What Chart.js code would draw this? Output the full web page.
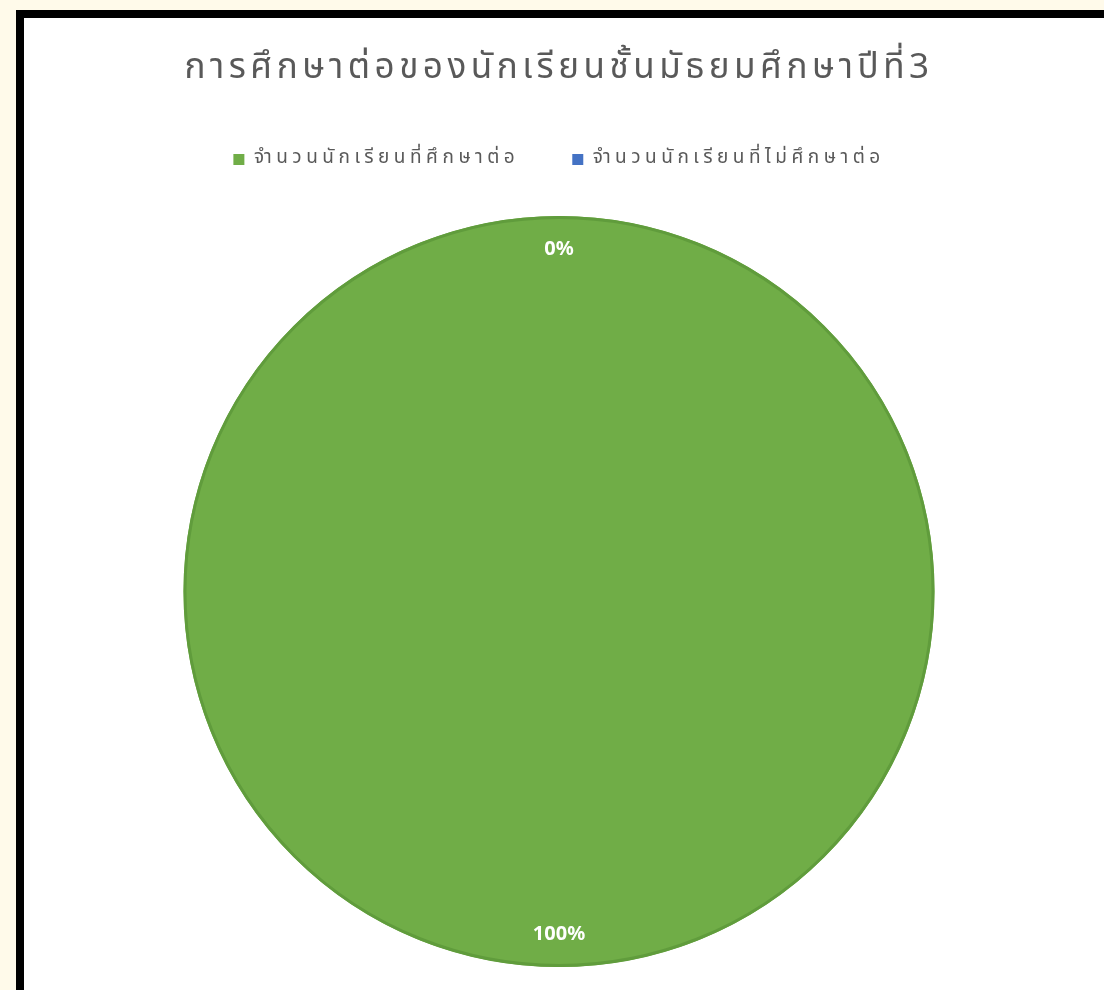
<!DOCTYPE html>
<html lang="th">
<head>
    <meta charset="UTF-8">
    <title>การศึกษาต่อของนักเรียนชั้นมัธยมศึกษาปีที่3</title>
    <style>
        * {
            margin: 0;
            padding: 0;
            box-sizing: border-box;
        }

        body {
            width: 1104px;
            height: 990px;
            overflow: hidden;
            background-color: #fffaea;
            position: relative;
        }

        .frame {
            position: absolute;
            left: 16px;
            top: 10px;
            width: 1200px;
            height: 1100px;
            border: 8px solid #000;
            background-color: #fff;
        }

        .chart-box {
            position: absolute;
            left: 24px;
            top: 18px;
            width: 1070px;
            height: 972px;
        }
    </style>
</head>
<body>
    <div class="frame"></div>
    <div class="chart-box">
        <canvas id="pieChart"></canvas>
    </div>

    <script src="https://cdn.jsdelivr.net/npm/chart.js"></script>
    <script>
        const categories = ['จำนวนนักเรียนที่ศึกษาต่อ', 'จำนวนนักเรียนที่ไม่ศึกษาต่อ'];
        const studentCounts = [100, 0];
        const sliceColors = ['#70ad47', '#4472c4'];

        const thaiFont = "Tahoma, 'Noto Sans Thai', 'Noto Sans', sans-serif";
        const textSpacing = '4.5px';

        // ตัวอักษรในภาพต้นฉบับกว้างกว่า จึงเพิ่มระยะห่างตัวอักษร (ต้องตั้งใหม่หลัง resize)
        const wideText = {
            id: 'wideText',
            beforeUpdate(chart) { chart.ctx.letterSpacing = textSpacing; },
            beforeDraw(chart) { chart.ctx.letterSpacing = textSpacing; }
        };

        // เว้นที่ใต้คำอธิบายก่อนถึงวงกลม
        const legendGap = {
            id: 'legendGap',
            beforeInit(chart) {
                if (!chart.legend) return;
                const fit = chart.legend.fit;
                chart.legend.fit = function () {
                    fit.call(this);
                    this.height += 37;
                };
            }
        };

        // เส้นขอบรอบวงกลม + ป้ายเปอร์เซ็นต์ใกล้ขอบ
        const percentLabels = {
            id: 'percentLabels',
            afterDatasetsDraw(chart) {
                const ctx = chart.ctx;
                const meta = chart.getDatasetMeta(0);
                const total = studentCounts.reduce((a, b) => a + b, 0);
                ctx.save();
                ctx.letterSpacing = '0px';

                const first = meta.data[0].getProps(['x', 'y', 'outerRadius'], true);
                ctx.beginPath();
                ctx.arc(first.x, first.y, first.outerRadius - 1.5, 0, Math.PI * 2);
                ctx.strokeStyle = '#609c3c';
                ctx.lineWidth = 3;
                ctx.stroke();

                ctx.fillStyle = '#ffffff';
                ctx.font = "bold 20px 'Noto Sans', sans-serif";
                ctx.textAlign = 'center';
                ctx.textBaseline = 'middle';
                meta.data.forEach((arc, i) => {
                    const p = arc.getProps(['x', 'y', 'startAngle', 'endAngle', 'outerRadius'], true);
                    const mid = (p.startAngle + p.endAngle) / 2;
                    const r = p.outerRadius - 33;
                    const pct = Math.round(studentCounts[i] / total * 100) + '%';
                    ctx.fillText(pct, p.x + Math.cos(mid) * r, p.y + Math.sin(mid) * r);
                });
                ctx.restore();
            }
        };

        const ctx = document.getElementById('pieChart').getContext('2d');

        new Chart(ctx, {
            type: 'pie',
            data: {
                labels: categories,
                datasets: [{
                    data: studentCounts,
                    backgroundColor: sliceColors,
                    borderWidth: 0
                }]
            },
            options: {
                responsive: true,
                maintainAspectRatio: false,
                animation: false,
                layout: {
                    padding: { top: 0, bottom: 23, left: 0, right: 0 }
                },
                plugins: {
                    title: {
                        display: true,
                        text: 'การศึกษาต่อของนักเรียนชั้นมัธยมศึกษาปีที่3',
                        color: '#595959',
                        font: { family: thaiFont, size: 35, weight: 'normal' },
                        padding: { top: 32, bottom: 5 }
                    },
                    legend: {
                        position: 'top',
                        labels: {
                            color: '#595959',
                            font: { family: thaiFont, size: 19 },
                            boxWidth: 11,
                            boxHeight: 11,
                            padding: 53
                        }
                    },
                    tooltip: { enabled: false }
                }
            },
            plugins: [wideText, legendGap, percentLabels]
        });
    </script>
</body>
</html>
